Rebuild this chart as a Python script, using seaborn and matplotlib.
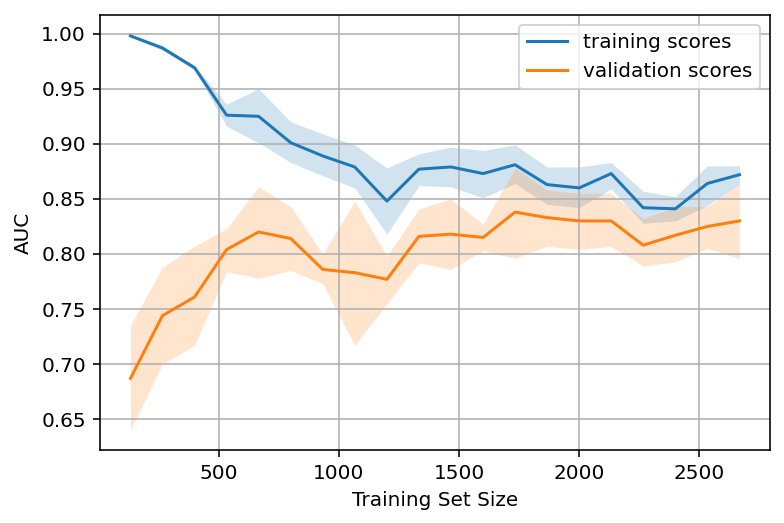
import matplotlib
matplotlib.use("Agg")
import matplotlib.pyplot as plt
import seaborn as sns
import numpy as np

train_sizes = [133, 266, 400, 533, 666, 800, 933, 1066, 1200, 1333,
               1466, 1600, 1733, 1866, 2000, 2133, 2266, 2400, 2533, 2667]

train_mean = [0.998, 0.987, 0.969, 0.926, 0.925, 0.901, 0.889, 0.879, 0.848, 0.877,
              0.879, 0.873, 0.881, 0.863, 0.860, 0.873, 0.842, 0.841, 0.864, 0.872]
train_upper = [0.999, 0.989, 0.971, 0.936, 0.950, 0.920, 0.909, 0.899, 0.878, 0.891,
               0.897, 0.894, 0.899, 0.879, 0.879, 0.883, 0.857, 0.852, 0.880, 0.880]
train_lower = [0.997, 0.985, 0.967, 0.916, 0.901, 0.883, 0.871, 0.860, 0.818, 0.862,
               0.861, 0.851, 0.864, 0.845, 0.842, 0.859, 0.828, 0.830, 0.844, 0.863]

val_mean = [0.687, 0.744, 0.761, 0.804, 0.820, 0.814, 0.786, 0.783, 0.777, 0.816,
            0.818, 0.815, 0.838, 0.833, 0.830, 0.830, 0.808, 0.817, 0.825, 0.830]
val_upper = [0.735, 0.788, 0.807, 0.823, 0.861, 0.843, 0.800, 0.848, 0.798, 0.841,
             0.850, 0.827, 0.878, 0.858, 0.855, 0.855, 0.832, 0.843, 0.843, 0.863]
val_lower = [0.640, 0.700, 0.717, 0.784, 0.778, 0.785, 0.773, 0.717, 0.755, 0.792,
             0.786, 0.803, 0.796, 0.807, 0.804, 0.807, 0.789, 0.793, 0.805, 0.796]

series_labels = ["training scores", "validation scores"]
colors = ["#1f77b4", "#ff7f0e"]

DPI = 144
fig = plt.figure(figsize=(784 / DPI, 523 / DPI), dpi=DPI)
ax = fig.add_axes([100 / 784, 1 - 450 / 523, 670 / 784, 435 / 523])

sns.lineplot(x=train_sizes, y=train_mean, ax=ax, color=colors[0], label=series_labels[0])
ax.fill_between(train_sizes, train_lower, train_upper, color=colors[0], alpha=0.2, linewidth=0)
sns.lineplot(x=train_sizes, y=val_mean, ax=ax, color=colors[1], label=series_labels[1])
ax.fill_between(train_sizes, val_lower, val_upper, color=colors[1], alpha=0.2, linewidth=0)

ax.grid(True)
ax.set_xlabel("Training Set Size")
ax.set_ylabel("AUC")
ax.legend(loc="upper right")

fig.savefig("out.png", dpi=DPI)
